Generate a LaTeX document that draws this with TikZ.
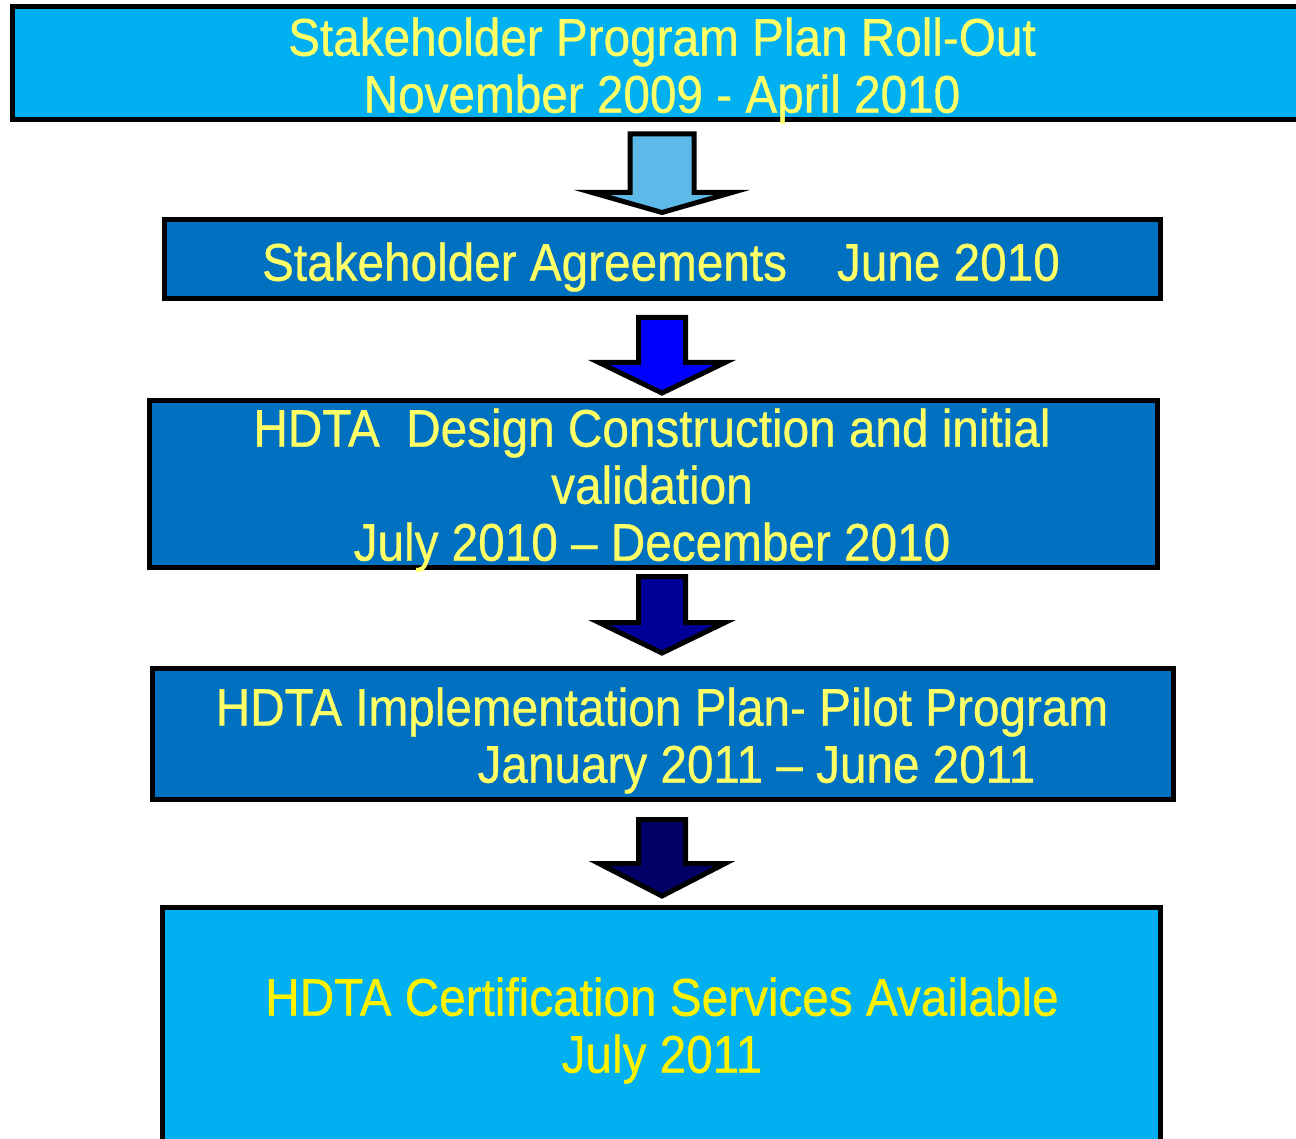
\documentclass[tikz,border=0pt]{standalone}
\usepackage{fontspec}
\setmainfont{Liberation Sans}[FakeStretch=0.9, FakeBold=0.6]
\usepackage{tikz}
\usetikzlibrary{calc}
\definecolor{cyanbox}{HTML}{00B0F0}
\definecolor{bluebox}{HTML}{0070C0}
\definecolor{paleyellow}{HTML}{FFFF66}
\definecolor{arrowA}{HTML}{5DB9E8}
\definecolor{arrowB}{HTML}{0000FF}
\definecolor{arrowC}{HTML}{000099}
\definecolor{arrowD}{HTML}{000066}

\begin{document}
\begin{tikzpicture}[x=1pt, y=-1pt,
    box/.style={draw=black, line width=5pt, outer sep=0pt, inner sep=0pt},
    boxtext/.style={text=paleyellow, align=center, inner sep=0pt, font=\fontsize{53}{57}\selectfont},
    blockarrow/.style={draw=black, line width=5pt, line join=miter}]
        \useasboundingbox (0,0) rectangle (1296,1139);
        \clip (0,0) rectangle (1296,1139);
        \node[box, fill=cyanbox, minimum width=1297.5pt, minimum height=113pt] (rollout) at (661.25,63.5) {};
        \node[box, fill=bluebox, minimum width=996pt, minimum height=79pt] (agree) at (662,259.5) {};
        \node[box, fill=bluebox, minimum width=1008pt, minimum height=166.5pt] (design) at (653,483.75) {};
        \node[box, fill=bluebox, minimum width=1021.5pt, minimum height=131.5pt] (pilot) at (662.75,733.75) {};
        \node[box, fill=cyanbox, minimum width=997.5pt, minimum height=252.5pt] (cert) at (661.25,1033.75) {};
        \node[boxtext] (rollouttxt) at (662,70.5) {Stakeholder Program Plan Roll-Out\\November 2009 - April 2010};
        \node[boxtext] (agreetxt) at (661,267) {Stakeholder Agreements\hspace{50pt}June 2010};
        \node[boxtext] (designtxt) at (652,490) {HDTA\ \ Design Construction and initial\\validation\\July 2010 – December 2010};
        \node[boxtext] (pilottxt) at (662,740.5) {HDTA Implementation Plan- Pilot Program\\\hspace*{189pt}January 2011 – June 2011};
        \node[boxtext, text=yellow] (certtxt) at (662,1030.5) {HDTA Certification Services Available\\July 2011};
        \foreach \a/\b/\c/\sw/\hw/\g/\h/\e in {rollout/agree/arrowA/32/70/14/27.5/7.5,
                                               agree/design/arrowB/23.5/63/18.5/38/7.5,
                                               design/pilot/arrowC/23.5/63/9.5/45.5/15,
                                               pilot/cert/arrowD/23.5/63/20/44/11.5} {
            \draw[blockarrow, fill=\c] let \p1=(\a.south), \p2=(\b.north) in
                ({(662-\sw)*1pt},{\y1-\g*1pt}) -- ({(662+\sw)*1pt},{\y1-\g*1pt})
                -- ({(662+\sw)*1pt},{\y2+\h*1pt}) -- ({(662+\hw)*1pt},{\y2+\h*1pt})
                -- ({662pt},{\y2+\e*1pt}) -- ({(662-\hw)*1pt},{\y2+\h*1pt})
                -- ({(662-\sw)*1pt},{\y2+\h*1pt}) -- cycle;
        }
    \end{tikzpicture}
\end{document}
